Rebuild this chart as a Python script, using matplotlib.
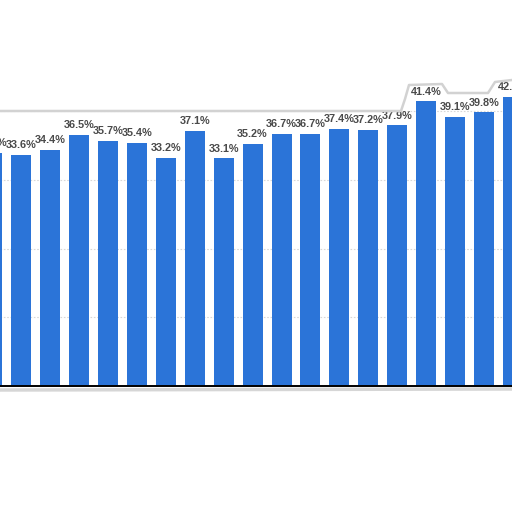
import matplotlib
matplotlib.use("Agg")
import matplotlib.pyplot as plt

# values (first and last bars are cut by the frame)
shares = [33.9, 33.6, 34.4, 36.5, 35.7, 35.4, 33.2, 37.1, 33.1, 35.2,
          36.7, 36.7, 37.4, 37.2, 37.9, 41.4, 39.1, 39.8, 42.0]
labels = [f"{v:.1f}%" for v in shares]
grid_levels = [10, 20, 30, 40]

BAR_COLOR = "#2b74d8"
TEXT_COLOR = "#4a4a4a"

fig = plt.figure(figsize=(5.12, 5.12), dpi=100)
ax = fig.add_axes([0, 1 - 386 / 512, 1, 386 / 512])

pitch = 28.94
x = list(range(len(shares)))
ax.bar(x, shares, width=20 / pitch, color=BAR_COLOR, zorder=2)

for xi, v, lab in zip(x, shares, labels):
    ax.annotate(lab, (xi, v), xytext=(0, 3.5), textcoords="offset points",
                ha="center", va="bottom", fontsize=7.8, fontweight="bold",
                family="Liberation Sans", color=TEXT_COLOR, zorder=4,
                annotation_clip=False)

ax.set_xlim(7.9 / pitch, (512 + 7.9) / pitch)
ax.set_ylim(0, 386 / 6.875)
ax.set_yticks(grid_levels)
ax.set_xticks([])
ax.tick_params(left=False, labelleft=False)
ax.grid(axis="y", color="#d8d8d8", linestyle=(0, (1.5, 1.5)), linewidth=0.8, zorder=0)
for side in ["left", "right", "top"]:
    ax.spines[side].set_visible(False)
ax.spines["bottom"].set_color("black")
ax.spines["bottom"].set_linewidth(1.4)

# grey torn-edge shadow of the screenshot
top_px = [(0, 111), (401, 111), (405, 99), (409, 85), (442, 84), (448, 93),
          (488, 93), (495, 82), (512, 80)]
fig.add_artist(plt.Line2D([p[0] / 512 for p in top_px],
                          [1 - p[1] / 512 for p in top_px],
                          color="#d2d2d2", linewidth=1.8, zorder=3,
                          solid_joinstyle="round"))
fig.add_artist(plt.Line2D([0, 1], [1 - 390 / 512, 1 - 389 / 512],
                          color="#d6d6d6", linewidth=2.5, zorder=3))

fig.savefig("out.png", dpi=100)
